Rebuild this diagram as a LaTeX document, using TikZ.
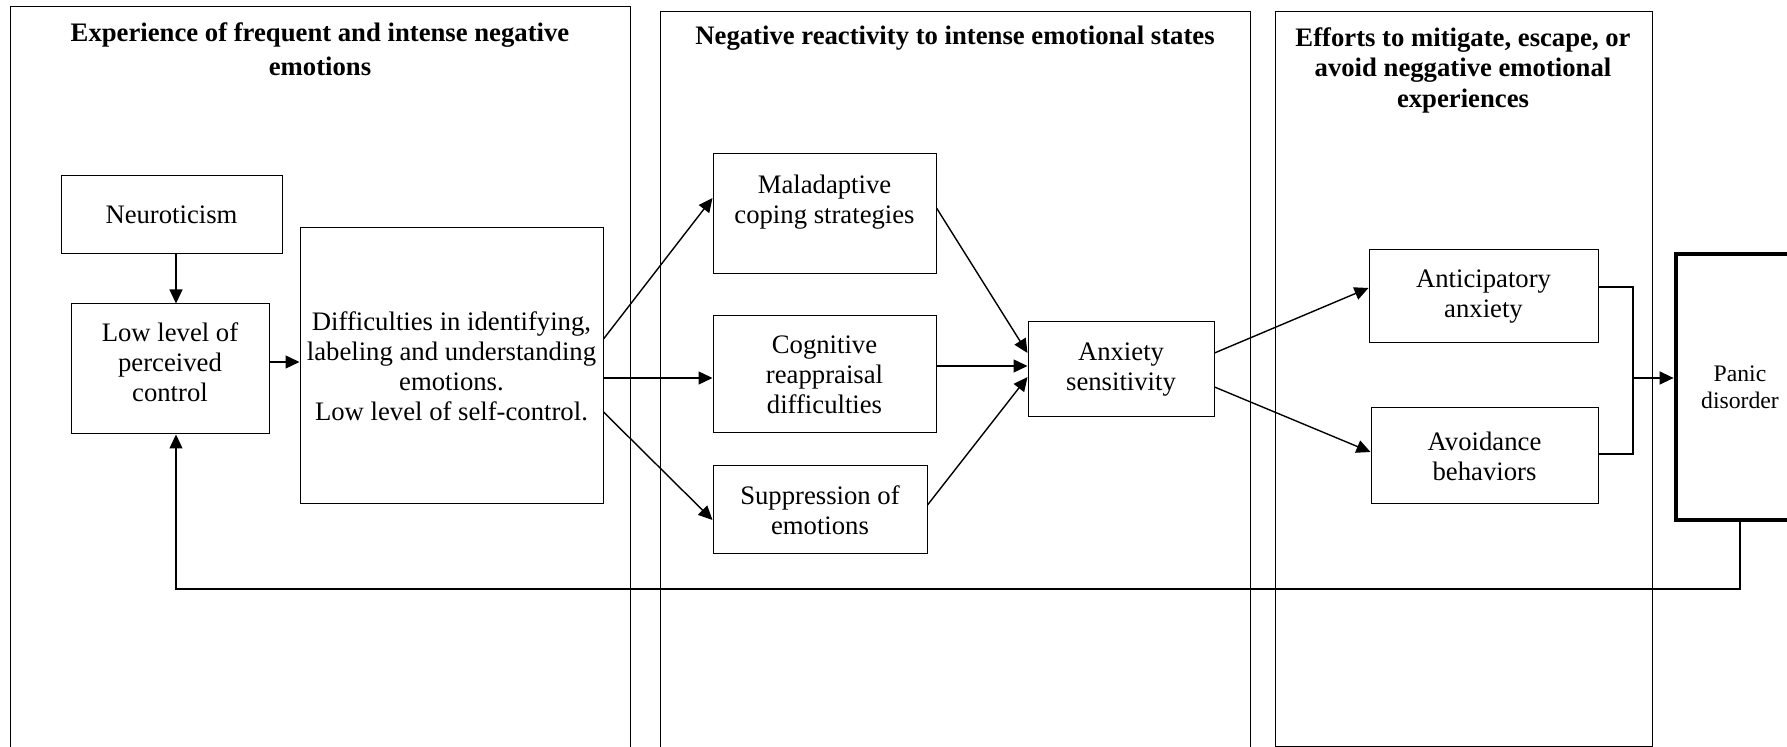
\documentclass[tikz,border=0pt]{standalone}
\usepackage{fontspec}
\setmainfont{Liberation Serif}
\usepackage{tikz}
\usetikzlibrary{shapes, arrows.meta, positioning}
\newcommand{\bodyfont}{\fontsize{13.35}{15}\selectfont}
\newcommand{\panicfont}{\fontsize{11.85}{13.5}\selectfont}
\newcommand{\titlefont}{\bfseries\fontsize{13.35}{15.25}\selectfont}

\begin{document}
\begin{tikzpicture}
  [
    x=0.5pt, y=-0.5pt,
    Panel/.style={draw=black, line width=0.5pt},
    Box/.style={rectangle, draw=black, line width=0.5pt, align=center, inner sep=1pt, font=\bodyfont},
    Panic/.style={rectangle, draw=black, line width=2.4pt, align=center, inner sep=1pt, font=\panicfont},
    Title/.style={align=center, font=\titlefont},
    Arrow/.style={-{Triangle[length=7pt, width=6.5pt]}, line width=0.7pt},
    Line/.style={line width=0.7pt}
  ]
  \useasboundingbox (0,0) rectangle (1787,747);
  % Panels
  \draw[Panel] (10,747) |- (630,7) -- (630,747);
  \draw[Panel] (660,747) |- (1250,12) -- (1250,747);
  \draw[Panel] (1275,12) rectangle (1652,746);
  \node[Title] (t1) at (320, 49) {Experience of frequent and intense negative\\[1.5pt]emotions};
  \node[Title] (t2) at (955, 38) {Negative reactivity to intense emotional states};
  \node[Title] (t3) at (1463, 70) {Efforts to mitigate, escape, or\\avoid neggative emotional\\experiences};
  % Nodes
  \node[Box, minimum width=110.5pt, minimum height=39pt] (neuro) at (171.5, 215) {Neuroticism};
  \node[Box, minimum width=99pt, minimum height=65pt] (lowctrl) at (170, 369) {Low level of\\perceived\\control\\[-8pt]~};
  \node[Box, minimum width=151.5pt, minimum height=138pt] (diffic) at (451.5, 366) {Difficulties in identifying,\\labeling and understanding\\emotions.\\Low level of self-control.};
  \node[Box, minimum width=111.5pt, minimum height=60pt] (malad) at (824.5, 214) {Maladaptive\\coping strategies\\~};
  \node[Box, minimum width=111.5pt, minimum height=58.5pt] (cogn) at (824.5, 374.5) {Cognitive\\reappraisal\\difficulties};
  \node[Box, minimum width=107pt, minimum height=44pt] (suppr) at (820, 510) {Suppression of\\emotions};
  \node[Box, minimum width=93pt, minimum height=47.5pt] (anxsens) at (1121, 369.5) {Anxiety\\sensitivity};
  \node[Box, minimum width=114.5pt, minimum height=46.5pt] (anticip) at (1483.5, 296.5) {Anticipatory\\anxiety};
  \node[Box, minimum width=113.5pt, minimum height=48pt] (avoid) at (1484.5, 456) {Avoidance\\behaviors};
  \node[Panic, minimum width=64pt, minimum height=133pt] (panic) at (1740, 387) {Panic\\disorder};
  \coordinate (join) at (1633, 378);
  \coordinate (back) at (176, 589);
  % Lines
  \path [Arrow, draw] (neuro.south -| back) -- (lowctrl.north -| back);
  \path [Arrow, draw] (lowctrl.east |- 0,362) -- (diffic.west |- 0,362);
  \path [Arrow, draw] (diffic.east |- 0,339) -- (malad.west |- 0,198);
  \path [Arrow, draw] (diffic.east |- 0,378) -- (cogn.west |- 0,378);
  \path [Arrow, draw] (diffic.east |- 0,412) -- (suppr.west |- 0,520);
  \path [Arrow, draw] (malad.east |- 0,208) -- (anxsens.west |- 0,353);
  \path [Arrow, draw] (cogn.east |- 0,366) -- (anxsens.west |- 0,366);
  \path [Arrow, draw] (suppr.east |- 0,505) -- (anxsens.west |- 0,377);
  \path [Arrow, draw] (anxsens.east |- 0,353) -- (anticip.west |- 0,288);
  \path [Arrow, draw] (anxsens.east |- 0,387) -- (avoid.west |- 0,452);
  \path [Line, draw] (anticip.east |- 0,287) -| (join) |- (avoid.east |- 0,454);
  \path [Arrow, draw] (join) -- (panic.west |- join);
  \path [Arrow, draw] (panic.south) |- (back) -- (lowctrl.south -| back);
\end{tikzpicture}
\end{document}
